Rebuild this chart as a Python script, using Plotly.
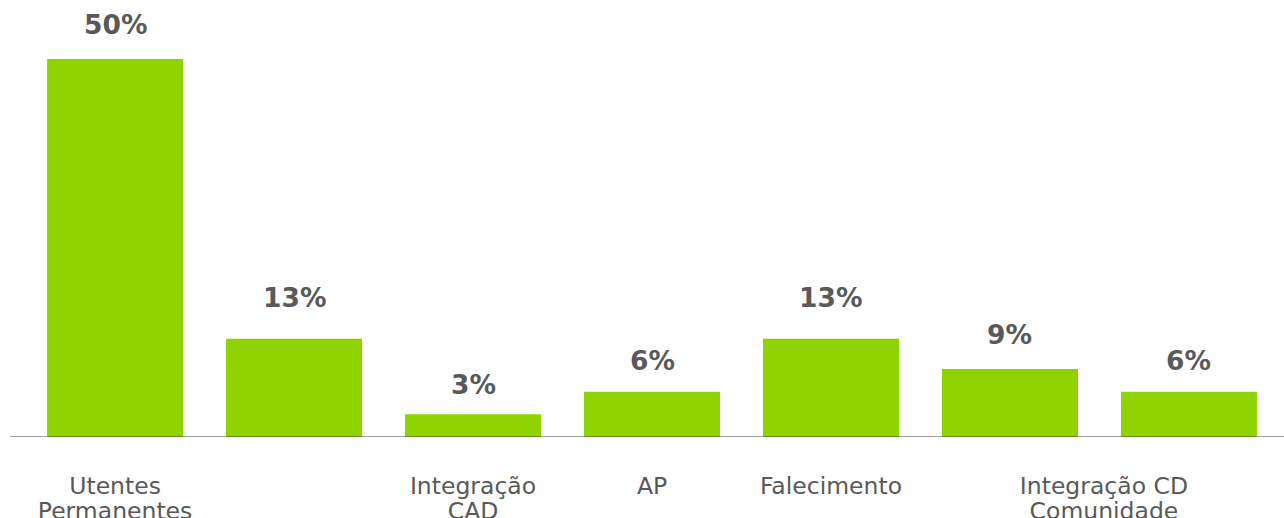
import plotly.graph_objects as go

categories = ["Utentes Permanentes", "", "Integração CAD", "AP", "Falecimento", "", ""]
values = [50, 13, 3, 6, 13, 9, 6]
value_labels = ["50%", "13%", "3%", "6%", "13%", "9%", "6%"]
tick_line1 = ["Utentes", "Integração", "AP", "Falecimento", "Integração CD"]
tick_line2 = ["Permanentes", "CAD", "", "", "Comunidade"]
tick_category_pos = [0, 2, 3, 4, 5.525]
# style: vertical gap (px) between each bar top and its value label
label_gaps = [17, 24, 12, 14, 24, 17, 14]

x = list(range(len(values)))
x_range = [-0.587, 6.531]
label_font = dict(family="DejaVu Sans", size=23.5, color="#595959")

fig = go.Figure()
fig.add_trace(go.Bar(
    x=x, y=values, marker=dict(color="#8fd400", line=dict(width=0)),
    width=0.76, hoverinfo="skip",
))
# invisible trace on the second x axis so its tick labels render
fig.add_trace(go.Scatter(x=[x[0]], y=[0], xaxis="x2", mode="markers",
                         marker=dict(opacity=0), hoverinfo="skip"))

for xi, v, t, g in zip(x, values, value_labels, label_gaps):
    fig.add_annotation(
        x=xi, y=v, text="<b>" + t + "</b>", showarrow=False,
        yanchor="bottom", yshift=g,
        font=dict(family="DejaVu Sans", size=26.5, color="#595959"),
    )

fig.update_layout(
    width=1284, height=518,
    margin=dict(l=10, r=0, t=0, b=81),
    paper_bgcolor="white", plot_bgcolor="white",
    showlegend=False,
    xaxis=dict(
        range=x_range, tickvals=tick_category_pos, ticktext=tick_line1,
        showgrid=False, zeroline=False, showline=False, ticks="",
        ticklabelstandoff=32, automargin=False,
        tickfont=label_font, fixedrange=True,
    ),
    xaxis2=dict(
        range=x_range, tickvals=tick_category_pos, ticktext=tick_line2,
        overlaying="x", side="bottom", anchor="y",
        showgrid=False, zeroline=False, showline=False, ticks="",
        ticklabelstandoff=57, automargin=False,
        tickfont=label_font, fixedrange=True,
    ),
    yaxis=dict(
        range=[0, 57.8], visible=False, showgrid=False, zeroline=False,
        fixedrange=True,
    ),
    shapes=[dict(type="line", xref="paper", yref="y", x0=0, x1=1, y0=0, y1=0,
                 line=dict(color="#404040", width=1.2))],
)

fig.write_html(
    "out.html",
    config={"displayModeBar": False},
    post_script="document.body.style.margin='0';document.body.style.overflow='hidden';",
)
